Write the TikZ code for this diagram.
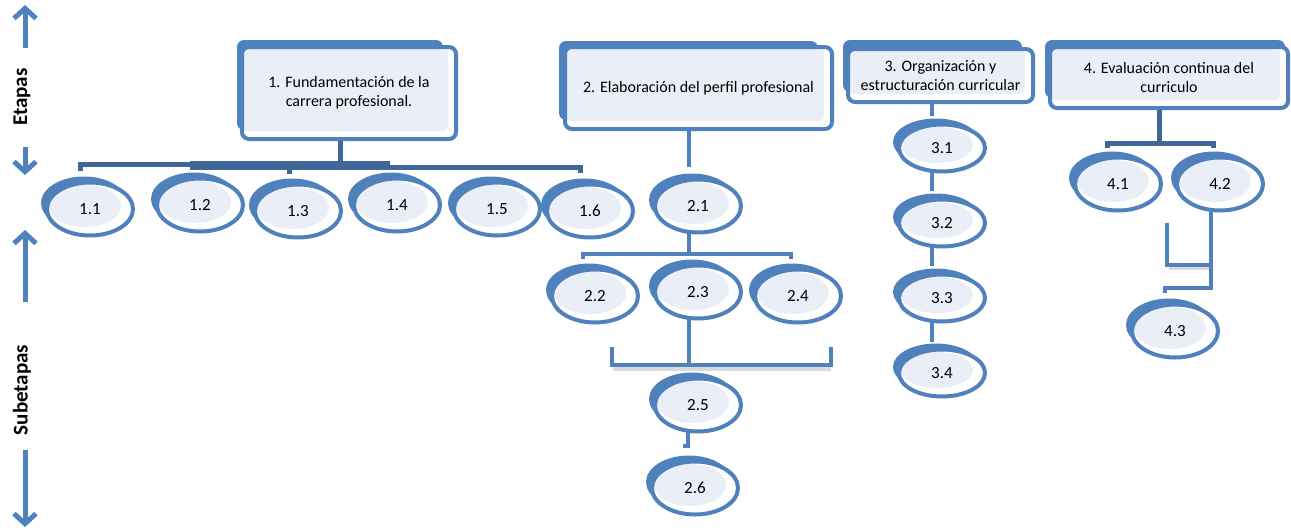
\documentclass[tikz,border=0pt]{standalone}
\usepackage{fontspec}
\setmainfont{Carlito}
\usetikzlibrary{shapes.geometric,arrows.meta,calc,backgrounds}
\definecolor{myblue}{HTML}{4F81BD}
\definecolor{mydark}{HTML}{3F6797}
\definecolor{mylight}{HTML}{EAEFF7}
\begin{document}
\begin{tikzpicture}[x=1pt,y=-1pt,
 sub/.style={ellipse, minimum width=86pt, minimum height=53pt, inner sep=0pt,
   draw=myblue, line width=4pt, fill=white, font=\fontsize{17}{19}\selectfont,
   preaction={fill=myblue, transform canvas={shift={(-6pt,6pt)}}},
   path picture={\fill[mylight] ([shift={(-5pt,3pt)}]path picture bounding box.center) ellipse [x radius=36pt, y radius=21pt];}},
 subs/.style={sub, minimum height=47pt,
   path picture={\fill[mylight] ([shift={(-5pt,3pt)}]path picture bounding box.center) ellipse [x radius=36pt, y radius=18pt];}},
 stage/.style={rectangle, rounded corners=7pt, draw=myblue, line width=4pt, fill=white,
   align=center, inner sep=0pt, font=\fontsize{16}{19}\selectfont,
   path picture={\fill[mylight, rounded corners=5pt] (path picture bounding box.north west) rectangle ([shift={(-8pt,8pt)}]path picture bounding box.south east);}},
 backbox/.style={fill=myblue, rounded corners=7pt},
 conn/.style={myblue, line width=4.5pt},
 dconn/.style={mydark, line width=5pt},
 shade/.style={black!25, line width=4pt, opacity=0.6},
 arr/.style={myblue, line width=5pt, -{Straight Barb[length=10pt,width=22pt]}},
 side/.style={font=\fontsize{21}{24}\selectfont\bfseries, rotate=90},
]
\useasboundingbox (0,0) rectangle (1291,531);

% left side arrows and labels
\coordinate (a1t) at (25,5);   \coordinate (a1b) at (25,48);
\coordinate (a2t) at (25,147); \coordinate (a2b) at (25,175);
\coordinate (a3t) at (25,230); \coordinate (a3b) at (25,302);
\coordinate (a4t) at (25,450); \coordinate (a4b) at (25,527);
\draw[arr] (a1b) -- (a1t);
\draw[arr] (a2t) -- (a2b);
\draw[arr] (a3b) -- (a3t);
\draw[arr] (a4t) -- (a4b);
\node[side] (etapas) at (22,97) {Etapas};
\node[side] (subetapas) at (22,390) {Subetapas};

% back shapes of the stage boxes
\fill[backbox] (237,40) rectangle (443,130);
\fill[backbox] (559,41) rectangle (818,120);
\fill[backbox] (843,40) rectangle (1022,92);
\fill[backbox] (1045,40) rectangle (1285,98);

% stage boxes
\node[stage, minimum width=214pt, minimum height=92pt] (b1) at (349,93) {1. Fundamentación de la\\carrera profesional.};
\node[stage, minimum width=267pt, minimum height=82pt] (b2) at (698.5,88) {2. Elaboración del perfil profesional};
\node[stage, minimum width=185pt, minimum height=53pt] (b3) at (940.5,75.5) {3. Organización y\\estructuración curricular};
\node[stage, minimum width=238pt, minimum height=61pt] (b4) at (1169,77.5) {4. Evaluación continua del\\curriculo};

% connectors of stage 1
\draw[dconn] ([xshift=-9pt]b1.south) -- (340,165);
\draw[dconn] (80,171) -- (80,164.5) -- (190,164.5);
\draw[dconn, line width=9pt] (190,165.5) -- (390,165.5);
\draw[dconn] (390,167.5) -- (580,167.5) -- (580,173);
\draw[dconn] (289.5,168) -- (289.5,174);

% connectors of stage 2
\draw[conn] (b2.south -| 689,0) -- (689,167);
\draw[conn] (689,233) -- (689,254);
\draw[conn] (583,259) -- (583,254) -- (791,254) -- (791,259);
\draw[shade] (613,369) -- (831,369);
\draw[conn] (689,319) -- (689,365);
\draw[conn] (612,347) -- (612,365) -- (831,365) -- (831,347);
\draw[conn] (688,432) -- (688,446) -- (683,446);

% connectors of stage 3
\draw[conn] (b3.south -| 932,0) -- (932,116);
\draw[conn] (932,172) -- (932,191);
\draw[conn] (932,247) -- (932,266);
\draw[conn] (932,322) -- (932,342);

% connectors of stage 4
\draw[dconn] (b4.south -| 1159,0) -- (1159,143);
\draw[dconn] (1107,148) -- (1107,143) -- (1213,143) -- (1213,148);
\draw[shade] (1169,268) -- (1213,268);
\draw[conn] (1211,212) -- (1211,288) -- (1165,288) -- (1165,293);
\draw[conn] (1167,223) -- (1167,265) -- (1213,265);

% subetapas
\node[sub] (e11) at (90,209) {1.1};
\node[sub] (e12) at (200,205) {1.2};
\node[sub] (e13) at (298,211) {1.3};
\node[sub] (e14) at (397,205) {1.4};
\node[sub] (e15) at (497,209) {1.5};
\node[sub] (e16) at (590,211) {1.6};
\node[sub] (e21) at (698,206) {2.1};
\node[sub] (e22) at (595,296) {2.2};
\node[sub] (e23) at (698,292) {2.3};
\node[sub] (e24) at (798,296) {2.4};
\node[sub] (e25) at (698,405) {2.5};
\node[sub] (e26) at (695,488) {2.6};
\node[subs] (e31) at (942,148) {3.1};
\node[subs] (e32) at (942,223) {3.2};
\node[subs] (e33) at (942,298) {3.3};
\node[subs] (e34) at (942,373) {3.4};
\node[sub] (e41) at (1118,184) {4.1};
\node[sub] (e42) at (1220,184) {4.2};
\node[sub] (e43) at (1175,331) {4.3};
\end{tikzpicture}
\end{document}
